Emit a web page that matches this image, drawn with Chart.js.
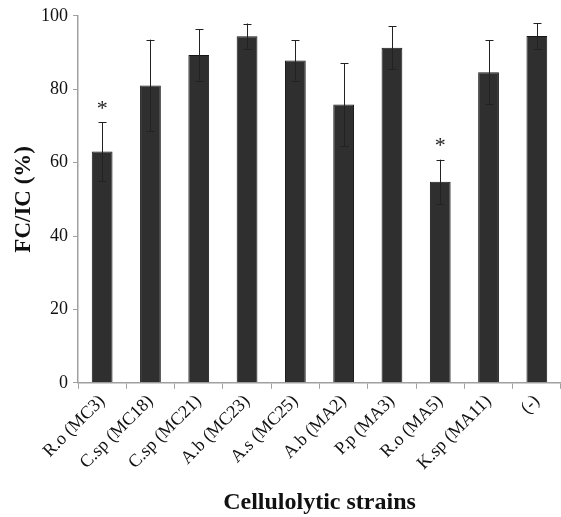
<!DOCTYPE html>
<html>
<head>
<meta charset="utf-8">
<script src="https://cdn.jsdelivr.net/npm/chart.js@4"></script>
<style>
	body { margin: 0; background: #fff; }
	#wrap { width: 561px; height: 517px; }
</style>
</head>
<body>
<div id="wrap"><canvas id="fcChart"></canvas></div>
<script>
const strains = ['R.o (MC3)', 'C.sp (MC18)', 'C.sp (MC21)', 'A.b (MC23)', 'A.s (MC25)',
	'A.b (MA2)', 'P.p (MA3)', 'R.o (MA5)', 'K.sp (MA11)', '(-)'];
const fcValues = [63, 81, 89.3, 94.4, 87.8, 75.8, 91.3, 54.8, 84.6, 94.5];
const fcErrors = [8, 12.5, 7, 3.5, 5.5, 11.3, 5.8, 6, 8.7, 3.5];
const marks = ['*', '', '', '', '', '', '', '*', '', ''];
const yTicks = [0, 20, 40, 60, 80, 100];

const serif = '"Liberation Serif", "Times New Roman", serif';

// error bars and the * marks, placed through the y scale
const errorBars = {
	id: 'errorBars',
	afterDatasetsDraw(chart) {
		const ctx = chart.ctx;
		const y = chart.scales.y;
		const meta = chart.getDatasetMeta(0);
		ctx.save();
		ctx.strokeStyle = '#222';
		ctx.lineWidth = 1;
		meta.data.forEach((bar, i) => {
			const x = Math.round(bar.x) + 0.5;
			const top = y.getPixelForValue(fcValues[i] + fcErrors[i]);
			const bot = y.getPixelForValue(fcValues[i] - fcErrors[i]);
			ctx.beginPath();
			ctx.moveTo(x, top);
			ctx.lineTo(x, bot);
			ctx.moveTo(x - 4, Math.round(top) + 0.5);
			ctx.lineTo(x + 4, Math.round(top) + 0.5);
			ctx.moveTo(x - 4, Math.round(bot) + 0.5);
			ctx.lineTo(x + 4, Math.round(bot) + 0.5);
			ctx.stroke();
			if (marks[i]) {
				ctx.fillStyle = '#222';
				ctx.font = '22px ' + serif;
				ctx.textAlign = 'center';
				ctx.textBaseline = 'bottom';
				ctx.fillText(marks[i], bar.x, top - 2);
			}
		});
		ctx.restore();
	}
};

new Chart(document.getElementById('fcChart'), {
	type: 'bar',
	data: {
		labels: strains,
		datasets: [{
			data: fcValues,
			backgroundColor: '#2f2f2f',
			borderColor: '#161616',
			borderWidth: 1,
			barPercentage: 0.43,
			categoryPercentage: 1
		}]
	},
	options: {
		responsive: true,
		maintainAspectRatio: false,
		animation: false,
		layout: { padding: { top: 4, right: 0, left: 13, bottom: 0 } },
		plugins: {
			legend: { display: false },
			tooltip: { enabled: false }
		},
		scales: {
			x: {
				grid: { display: true, drawOnChartArea: false, drawTicks: true, tickLength: 6, color: '#a0a0a0', offset: true },
				border: { color: '#a0a0a0', width: 1.5 },
				ticks: { color: '#111', font: { family: serif, size: 18 }, minRotation: 45, maxRotation: 45, padding: 2 },
				title: { display: true, text: 'Cellulolytic strains', color: '#111', font: { family: serif, size: 24, weight: 'bold' }, padding: { top: 12, bottom: 0 } }
			},
			y: {
				min: 0,
				max: 100,
				afterBuildTicks(axis) { axis.ticks = yTicks.map(v => ({ value: v })); },
				grid: { display: true, drawOnChartArea: false, drawTicks: true, tickLength: 5, color: '#a0a0a0' },
				border: { color: '#a0a0a0', width: 1.5 },
				ticks: { color: '#111', font: { family: serif, size: 18 }, padding: 5 },
				title: { display: true, text: 'FC/IC (%)', color: '#111', font: { family: serif, size: 23, weight: 'bold', lineHeight: 1 }, padding: { top: 0, bottom: 0 } }
			}
		}
	},
	plugins: [errorBars]
});
</script>
</body>
</html>
